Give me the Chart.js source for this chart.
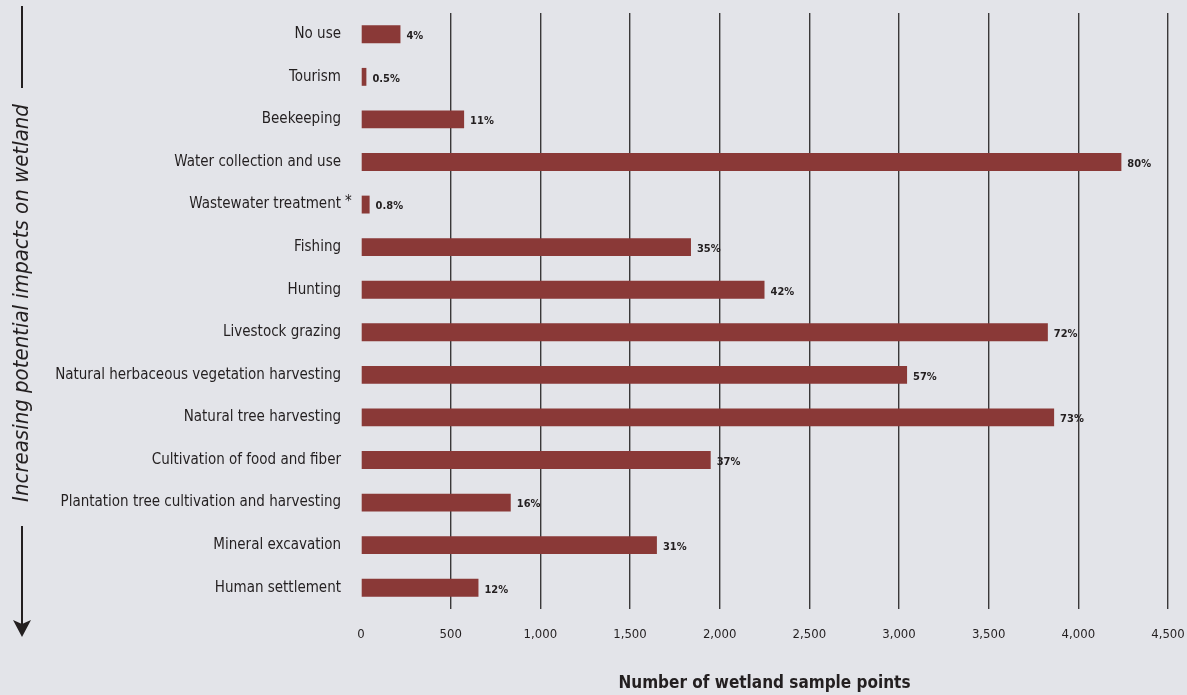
<!DOCTYPE html>
<html>
<head>
<meta charset="utf-8">
<script src="https://cdn.jsdelivr.net/npm/chart.js@4.4.1/dist/chart.umd.min.js"></script>
<style>
  html, body { margin: 0; padding: 0; background: #e3e4e9; }
  #wrap { width: 1187px; height: 695px; position: relative; }
</style>
</head>
<body>
<div id="wrap"><canvas id="barChart"></canvas></div>
<script>
// usos del humedal, de menor a mayor impacto
const categories = [
    'No use', 'Tourism', 'Beekeeping', 'Water collection and use', 'Wastewater treatment *',
    'Fishing', 'Hunting', 'Livestock grazing', 'Natural herbaceous vegetation harvesting',
    'Natural tree harvesting', 'Cultivation of food and fiber',
    'Plantation tree cultivation and harvesting', 'Mineral excavation', 'Human settlement'
];
const samplePoints = [220, 30, 575, 4240, 48, 1840, 2250, 3830, 3045, 3865, 1950, 835, 1650, 655];
const percentLabels = ['4%', '0.5%', '11%', '80%', '0.8%', '35%', '42%', '72%', '57%', '73%', '37%', '16%', '31%', '12%'];
const xTicks = [0, 500, 1000, 1500, 2000, 2500, 3000, 3500, 4000, 4500];

const FONT = "'DejaVu Sans Condensed', 'Liberation Sans Narrow', sans-serif";
const INK = '#231f20';

// etiquetas de porcentaje, asterisco y texto lateral con flecha
const extras = {
    id: 'extras',
    afterDatasetsDraw(chart) {
        const ctx = chart.ctx;
        const meta = chart.getDatasetMeta(0);
        ctx.save();
        ctx.fillStyle = INK;
        ctx.font = 'bold 11px ' + FONT;
        ctx.textAlign = 'left';
        ctx.textBaseline = 'middle';
        meta.data.forEach(function(bar, i) {
            ctx.fillText(percentLabels[i], bar.x + 6, bar.y + 2);
        });

        // asterisco fuera de la alineacion
        const yScale = chart.scales.y;
        categories.forEach(function(c, i) {
            if (c.endsWith(' *')) {
                ctx.font = '15px ' + FONT;
                ctx.textAlign = 'left';
                ctx.fillText('*', yScale.right - 16, yScale.getPixelForValue(i) - 2);
            }
        });

        // texto vertical
        const cx = 22;
        const cy = 303;
        ctx.translate(cx, cy);
        ctx.rotate(-Math.PI / 2);
        ctx.font = 'italic 22px ' + FONT;
        ctx.textAlign = 'center';
        ctx.textBaseline = 'middle';
        ctx.fillText('Increasing potential impacts on wetland', 0, 0);
        ctx.restore();

        ctx.save();
        ctx.strokeStyle = INK;
        ctx.fillStyle = INK;
        ctx.lineWidth = 2;
        ctx.beginPath();
        ctx.moveTo(cx, 6);
        ctx.lineTo(cx, 88);
        ctx.moveTo(cx, 526);
        ctx.lineTo(cx, 625);
        ctx.stroke();
        ctx.beginPath();
        ctx.moveTo(cx - 9, 620);
        ctx.lineTo(cx, 637);
        ctx.lineTo(cx + 9, 620);
        ctx.lineTo(cx, 624);
        ctx.closePath();
        ctx.fill();
        ctx.restore();
    }
};

document.addEventListener('DOMContentLoaded', function() {
    const ctx = document.getElementById('barChart').getContext('2d');

    const data = {
        labels: categories,
        datasets: [{
            label: 'Number of wetland sample points',
            data: samplePoints,
            backgroundColor: '#8a3937',
            borderWidth: 0,
            barPercentage: 0.42,
            categoryPercentage: 1
        }]
    };

    const options = {
        indexAxis: 'y',
        responsive: true,
        maintainAspectRatio: false,
        animation: false,
        layout: { padding: { top: 13, right: 19, left: 0, bottom: 0 } },
        plugins: {
            legend: { display: false },
            tooltip: { enabled: false }
        },
        scales: {
            x: {
                min: 0,
                max: 4500,
                afterBuildTicks: function(scale) {
                    scale.ticks = xTicks.map(function(v) { return { value: v }; });
                },
                afterFit: function(scale) {
                    scale.height = 86;
                    scale.paddingLeft = 0;
                    scale.paddingRight = 0;
                },
                grid: {
                    color: function(c) { return c.tick && c.tick.value === 0 ? 'rgba(0,0,0,0)' : '#3a3839'; },
                    lineWidth: 1.4,
                    drawTicks: false
                },
                border: { display: false },
                ticks: {
                    padding: 18,
                    color: INK,
                    font: { family: FONT, size: 13 },
                    callback: function(v) { return Number(v).toLocaleString('en-US'); }
                },
                title: {
                    display: true,
                    text: 'Number of wetland sample points',
                    color: INK,
                    font: { family: FONT, size: 17, weight: 'bold' },
                    padding: { top: 0, bottom: 1 }
                }
            },
            y: {
                afterFit: function(scale) {
                    scale.width = 361;
                    scale.paddingTop = 0;
                    scale.paddingBottom = 0;
                },
                grid: { display: false, drawTicks: false },
                border: { display: false },
                ticks: {
                    padding: 20,
                    color: INK,
                    font: { family: FONT, size: 15 },
                    callback: function(v) { return categories[v].replace(' *', ''); }
                }
            }
        }
    };

    const barChart = new Chart(ctx, {
        type: 'bar',
        data: data,
        options: options,
        plugins: [extras]
    });
});
</script>
</body>
</html>
